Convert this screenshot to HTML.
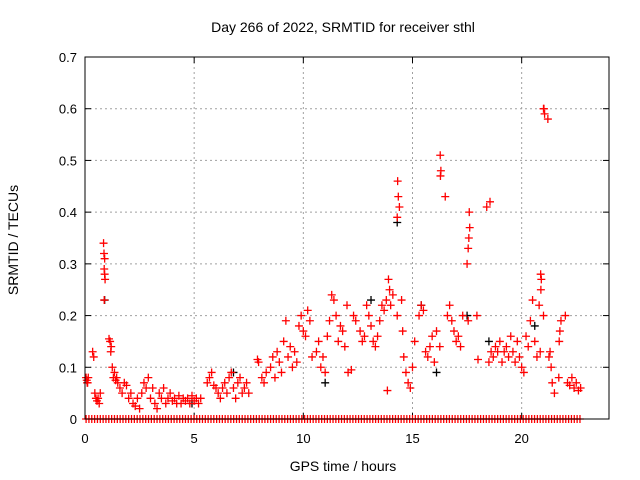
<!DOCTYPE html>
<html><head><meta charset="utf-8"><style>
body{margin:0;background:#fff;}
svg{display:block;font-family:"Liberation Sans",sans-serif;}
</style></head><body>
<svg id="chart" width="640" height="480">
<text x="343" y="32" text-anchor="middle" font-size="14">Day 266 of 2022, SRMTID for receiver sthl</text>
<text x="0" y="0" transform="translate(18,240) rotate(-90)" text-anchor="middle" font-size="14">SRMTID / TECUs</text>
<text x="343" y="471" text-anchor="middle" font-size="14">GPS time / hours</text>
<g id="grid"></g>
<g id="ticks"></g>
<g id="zeros"></g>
<g id="black"></g>
<g id="red"></g>
<rect x="85" y="57" width="524" height="362" fill="none" stroke="#000" stroke-width="1"/>
</svg>
<script>
const xTicks=[0,5,10,15,20];
const yTicks=[0,0.1,0.2,0.3,0.4,0.5,0.6,0.7];
const yTickLabels=["0","0.1","0.2","0.3","0.4","0.5","0.6","0.7"];
const redTimes=[0.05,0.08,0.1,0.12,0.15,0.35,0.4,0.45,0.5,0.55,0.6,0.65,0.7,0.85,0.87,0.9,0.88,0.92,0.9,0.88,1.1,1.15,1.2,1.18,1.25,1.3,1.35,1.4,1.45,1.5,1.6,1.7,1.8,1.9,2.0,2.1,2.2,2.3,2.4,2.5,2.6,2.7,2.8,2.9,3.0,3.1,3.2,3.3,3.4,3.5,3.6,3.7,3.8,3.9,4.0,4.1,4.2,4.3,4.4,4.5,4.6,4.7,4.8,4.9,5.0,5.1,5.2,5.3,5.6,5.7,5.8,5.9,6.0,6.1,6.2,6.3,6.4,6.5,6.6,6.7,6.8,6.9,7.0,7.1,7.2,7.3,7.4,7.5,7.9,7.95,8.1,8.2,8.3,8.5,8.6,8.7,8.8,8.9,9.0,9.1,9.2,9.3,9.4,9.5,9.6,9.7,9.8,9.9,10.0,10.1,10.2,10.3,10.4,10.6,10.7,10.8,10.9,11.0,11.1,11.2,11.3,11.4,11.5,11.6,11.7,11.8,11.9,12.0,12.05,12.2,12.3,12.4,12.6,12.7,12.8,12.9,13.0,13.1,13.2,13.3,13.4,13.5,13.6,13.7,13.8,13.85,13.9,13.95,14.0,14.1,14.3,14.32,14.35,14.4,14.3,14.5,14.55,14.6,14.7,14.8,14.9,15.0,15.1,15.3,15.4,15.5,15.6,15.7,15.8,15.9,16.0,16.1,16.25,16.27,16.3,16.28,16.5,16.6,16.7,16.8,16.9,17.0,17.1,17.2,17.3,17.55,17.6,17.62,17.58,17.55,17.5,17.95,18.0,18.5,18.55,18.4,18.6,18.7,18.8,18.9,19.0,19.1,19.2,19.3,19.4,19.5,19.6,19.7,19.8,19.9,20.0,20.1,20.2,20.3,20.4,20.5,20.6,20.7,20.85,20.87,20.9,20.88,20.8,21.0,21.02,21.05,21.0,21.2,21.25,21.3,21.35,21.4,21.5,21.7,21.72,21.75,21.8,22.0,22.1,22.2,22.3,22.4,22.5,22.6,22.7];
const redValues=[0.08,0.075,0.07,0.07,0.08,0.13,0.12,0.05,0.04,0.035,0.04,0.03,0.05,0.34,0.32,0.31,0.29,0.27,0.28,0.23,0.155,0.15,0.14,0.13,0.1,0.08,0.09,0.075,0.08,0.07,0.06,0.05,0.07,0.065,0.04,0.05,0.03,0.025,0.04,0.02,0.05,0.07,0.06,0.08,0.04,0.06,0.03,0.02,0.05,0.04,0.06,0.03,0.04,0.05,0.035,0.04,0.03,0.045,0.03,0.04,0.035,0.04,0.03,0.045,0.035,0.04,0.03,0.04,0.07,0.08,0.09,0.065,0.06,0.05,0.04,0.06,0.07,0.05,0.08,0.09,0.06,0.04,0.07,0.08,0.05,0.06,0.07,0.05,0.115,0.11,0.08,0.07,0.09,0.1,0.12,0.08,0.13,0.11,0.09,0.15,0.19,0.12,0.14,0.1,0.13,0.11,0.18,0.2,0.17,0.16,0.21,0.19,0.12,0.13,0.15,0.1,0.12,0.09,0.16,0.19,0.24,0.23,0.2,0.15,0.18,0.17,0.14,0.22,0.09,0.095,0.2,0.19,0.17,0.15,0.16,0.22,0.2,0.18,0.15,0.14,0.16,0.19,0.22,0.21,0.23,0.055,0.27,0.25,0.22,0.24,0.2,0.46,0.43,0.41,0.39,0.23,0.17,0.12,0.09,0.07,0.06,0.1,0.15,0.2,0.22,0.21,0.13,0.12,0.14,0.16,0.11,0.17,0.14,0.51,0.48,0.47,0.43,0.2,0.22,0.19,0.17,0.15,0.16,0.14,0.2,0.19,0.4,0.37,0.35,0.33,0.3,0.2,0.115,0.11,0.42,0.41,0.13,0.12,0.14,0.13,0.15,0.11,0.13,0.14,0.12,0.16,0.13,0.11,0.15,0.12,0.1,0.09,0.16,0.14,0.19,0.23,0.15,0.12,0.13,0.28,0.27,0.25,0.22,0.2,0.6,0.59,0.6,0.58,0.12,0.13,0.1,0.07,0.05,0.08,0.15,0.17,0.19,0.2,0.07,0.065,0.08,0.06,0.07,0.055,0.06,0.065];
const blackTimes=[0.9,4.9,6.8,11.0,13.1,14.3,15.4,16.1,17.5,18.5,20.6];
const blackValues=[0.23,0.03,0.09,0.07,0.23,0.38,0.22,0.09,0.2,0.15,0.18];
const zeroStart=0.05, zeroEnd=22.7, zeroStep=0.13;
const X=t=>85+t*524/24, Y=v=>419-v*362/0.7;
const NS="http://www.w3.org/2000/svg";
function mk(tag,attrs,parent){const e=document.createElementNS(NS,tag);for(const k in attrs)e.setAttribute(k,attrs[k]);parent.appendChild(e);return e;}
const grid=document.getElementById('grid'),ticks=document.getElementById('ticks');
xTicks.forEach(t=>{const x=X(t);
 if(t>0){const l=mk('line',{x1:x,x2:x,y1:57,y2:419,stroke:'#a0a0a0','stroke-dasharray':'2,3'},grid);
 
 }
 mk('line',{x1:x,x2:x,y1:419,y2:413,stroke:'#000'},ticks);mk('line',{x1:x,x2:x,y1:57,y2:63,stroke:'#000'},ticks);
 const tx=mk('text',{x:x,y:443,'text-anchor':'middle','font-size':13},ticks);tx.textContent=t;
 
 });
yTicks.forEach((v,i)=>{const y=Y(v);
 if(v>0&&v<0.7){const l=mk('line',{x1:85,x2:609,y1:y,y2:y,stroke:'#a0a0a0','stroke-dasharray':'2,3'},grid);
 
 }
 mk('line',{x1:85,x2:91,y1:y,y2:y,stroke:'#000'},ticks);mk('line',{x1:609,x2:603,y1:y,y2:y,stroke:'#000'},ticks);
 const tx=mk('text',{x:77,y:y+5,'text-anchor':'end','font-size':13},ticks);tx.textContent=yTickLabels[i];
 
 });
function plus(g,t,v,c,name){const x=X(t),y=Y(v);
 const p=mk('path',{d:`M${x-4},${y}H${x+4}M${x},${y-4}V${y+4}`,stroke:c,'stroke-width':1.3},g);
 
 }
const zg=document.getElementById('zeros');
for(let t=zeroStart;t<=zeroEnd;t+=zeroStep)plus(zg,t,0,'#f00','zero-point');
const bg=document.getElementById('black');
blackTimes.forEach((t,i)=>plus(bg,t,blackValues[i],'#000','black-point'));
const rg=document.getElementById('red');
redTimes.forEach((t,i)=>plus(rg,t,redValues[i],'#f00','red-point'));
</script>
</body></html>
